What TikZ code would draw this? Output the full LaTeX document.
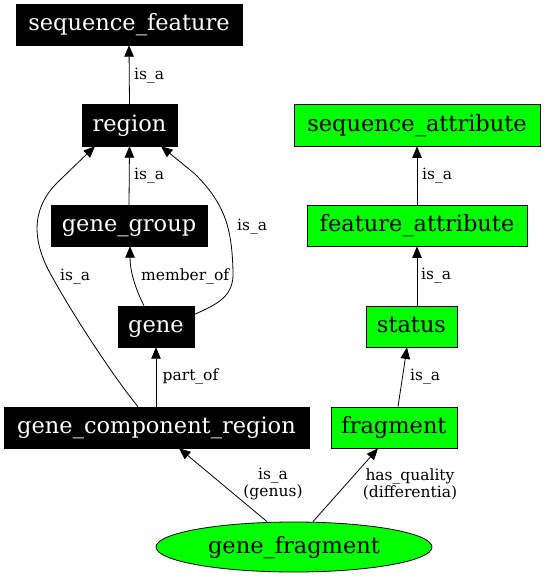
\documentclass[tikz,border=0pt]{standalone}
\usepackage{fontspec}
\setmainfont{DejaVu Serif}
\usetikzlibrary{arrows.meta,calc,shapes.geometric}
\begin{document}
\begin{tikzpicture}[x=1pt,y=-1pt,
  nbase/.style={rectangle, inner sep=0pt, minimum height=41pt,
    font=\fontsize{22.5}{27}\selectfont, text height=17pt, text depth=5pt},
  blk/.style={nbase, fill=black, draw=black, text=white},
  grn/.style={nbase, fill=green, draw=black, line width=0.8pt, text=black},
  edge/.style={draw=black, line width=0.8pt, -{Triangle[length=11.5pt,width=9.5pt]}},
  elab/.style={font=\fontsize{15.5}{17}\selectfont, inner sep=0pt, anchor=base west},
  clab/.style={font=\fontsize{15.5}{17}\selectfont, inner sep=0pt, align=center, anchor=center}
]
\useasboundingbox (0,0) rectangle (544,576);

% nodes
\node[blk, minimum width=226pt] (sf) at (129,24.5) {sequence\_feature};
\node[blk, minimum width=95pt, minimum height=42pt] (region) at (129.5,125) {region};
\node[grn, minimum width=246pt, minimum height=42pt] (sa) at (417,125) {sequence\_attribute};
\node[blk, minimum width=156pt] (gg) at (129,225.5) {gene\_group};
\node[grn, minimum width=220pt] (fa) at (417,225.5) {feature\_attribute};
\node[blk, minimum width=76pt] (gene) at (156,326.5) {gene};
\node[grn, minimum width=91pt] (status) at (411.5,326.5) {status};
\node[blk, minimum width=305pt] (gcr) at (156.5,427.5) {gene\_component\_region};
\node[grn, minimum width=126pt] (fragment) at (394,427.5) {fragment};
\node[ellipse, fill=green, draw=black, line width=0.8pt, inner sep=0pt,
  minimum width=276pt, minimum height=50pt,
  font=\fontsize{22.5}{27}\selectfont, text height=17pt, text depth=5pt] (gf) at (294,547) {gene\_fragment};

% edges
\draw[edge] (region.north) -- (sf.south);
\draw[edge] (gg.north) -- (region.south);
\draw[edge] (fa.north) -- (sa.south);
\draw[edge] (status.north -| fa.south) -- (fa.south);
\draw[edge] ($(fragment.north)+(4,0)$) -- ($(status.south)+(-4.5,0)$);
\draw[edge] (gcr.north -| gene.south) -- (gene.south);
\draw[edge] ($(gf.north)+(-27,0)$) -- ($(gcr.south)+(22.5,0)$);
\draw[edge] ($(gf.north)+(19,0)$) -- ($(fragment.south)+(-16,0)$);
\draw[edge] ($(gene.north)+(-12,0)$) .. controls (136,290) and (130,272) .. ($(gg.south)+(1,0)$);
\draw[edge] ($(gene.east)+(0,-12)$) .. controls (218,304) and (234,296) .. (233,272)
  .. controls (232,230) and (226,205) .. (195,174) -- ($(region.south)+(31.5,0)$);
\draw[edge] ($(gcr.north)+(-18.5,0)$) .. controls (110,372) and (70,310) .. (50,273)
  .. controls (30,236) and (33,205) .. (60,180) -- ($(region.south)+(-34.5,0)$);

% edge labels
\node[elab] (l1) at (134,79) {is\_a};
\node[elab] (l2) at (134,179) {is\_a};
\node[elab] (l3) at (237,230) {is\_a};
\node[elab] (l4) at (60,280) {is\_a};
\node[elab] (l5) at (141,280) {member\_of};
\node[elab] (l6) at (162.5,380) {part\_of};
\node[elab] (l7) at (410,380) {is\_a};
\node[elab] (l8) at (421,279) {is\_a};
\node[elab] (l9) at (422,179) {is\_a};
\node[clab] (l10) at (273,484.5) {is\_a\\(genus)};
\node[clab] (l11) at (410,484.5) {has\_quality\\(differentia)};
\end{tikzpicture}
\end{document}
